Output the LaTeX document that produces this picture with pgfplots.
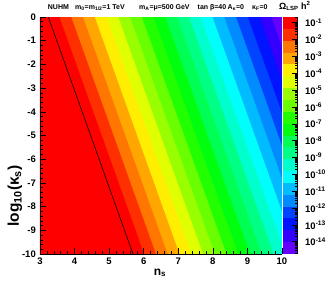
\documentclass[border=0pt]{standalone}
\usepackage{fontspec}
\setmainfont{Liberation Sans}
\usepackage{pgfplots}
\pgfplotsset{compat=1.18}
\definecolor{c0}{RGB}{99,0,255}
\definecolor{c1}{RGB}{51,0,255}
\definecolor{c2}{RGB}{0,20,255}
\definecolor{c3}{RGB}{0,68,255}
\definecolor{c4}{RGB}{0,139,255}
\definecolor{c5}{RGB}{0,187,255}
\definecolor{c6}{RGB}{0,255,252}
\definecolor{c7}{RGB}{0,255,204}
\definecolor{c8}{RGB}{0,255,133}
\definecolor{c9}{RGB}{0,255,85}
\definecolor{c10}{RGB}{0,255,14}
\definecolor{c11}{RGB}{34,255,0}
\definecolor{c12}{RGB}{105,255,0}
\definecolor{c13}{RGB}{153,255,0}
\definecolor{c14}{RGB}{224,255,0}
\definecolor{c15}{RGB}{255,238,0}
\definecolor{c16}{RGB}{255,167,0}
\definecolor{c17}{RGB}{255,119,0}
\definecolor{c18}{RGB}{255,48,0}
\definecolor{c19}{RGB}{255,0,0}
\begin{document}
\begin{tikzpicture}[font=\bfseries]
\path[use as bounding box] (-40pt,-28pt) rectangle (287pt,254pt);
\begin{axis}[
  at={(0pt,0pt)}, anchor=south west,
  width=242pt, height=237pt, scale only axis,
  xmin=3, xmax=10, ymin=-10, ymax=0,
  axis on top,
  axis x line*=bottom, axis y line*=left,
  axis line style={black, line width=0.6pt},
  tick align=inside,
  xtick={3,4,5,6,7,8,9,10},
  xticklabels={3,4,5,6,7,8,9,10},
  ytick={-10,-9,-8,-7,-6,-5,-4,-3,-2,-1,0},
  yticklabels={-10,-9,-8,-7,-6,-5,-4,-3,-2,-1,0},
  minor x tick num=4, minor y tick num=4,
  major tick length=6pt, minor tick length=3pt,
  every tick/.style={black, line width=0.5pt},
  tick label style={font=\fontsize{9.5}{11}\bfseries, inner sep=0pt},
  xticklabel shift=4pt, yticklabel shift=4pt,
]
\addplot[fill=c19, draw=none] coordinates {(2,1) (13,1) (13,-11) (2,-11)};
\addplot[fill=c18, draw=none] coordinates {(3.320,1) (13,1) (13,-11) (6.260,-11)};
\addplot[fill=c17, draw=none] coordinates {(3.661,1) (13,1) (13,-11) (6.601,-11)};
\addplot[fill=c16, draw=none] coordinates {(4.001,1) (13,1) (13,-11) (6.941,-11)};
\addplot[fill=c15, draw=none] coordinates {(4.342,1) (13,1) (13,-11) (7.282,-11)};
\addplot[fill=c14, draw=none] coordinates {(4.682,1) (13,1) (13,-11) (7.622,-11)};
\addplot[fill=c13, draw=none] coordinates {(5.023,1) (13,1) (13,-11) (7.963,-11)};
\addplot[fill=c12, draw=none] coordinates {(5.363,1) (13,1) (13,-11) (8.303,-11)};
\addplot[fill=c11, draw=none] coordinates {(5.704,1) (13,1) (13,-11) (8.644,-11)};
\addplot[fill=c10, draw=none] coordinates {(6.044,1) (13,1) (13,-11) (8.984,-11)};
\addplot[fill=c9, draw=none] coordinates {(6.385,1) (13,1) (13,-11) (9.325,-11)};
\addplot[fill=c8, draw=none] coordinates {(6.725,1) (13,1) (13,-11) (9.665,-11)};
\addplot[fill=c7, draw=none] coordinates {(7.066,1) (13,1) (13,-11) (10.006,-11)};
\addplot[fill=c6, draw=none] coordinates {(7.406,1) (13,1) (13,-11) (10.346,-11)};
\addplot[fill=c5, draw=none] coordinates {(7.747,1) (13,1) (13,-11) (10.687,-11)};
\addplot[fill=c4, draw=none] coordinates {(8.087,1) (13,1) (13,-11) (11.027,-11)};
\addplot[fill=c3, draw=none] coordinates {(8.428,1) (13,1) (13,-11) (11.368,-11)};
\addplot[fill=c2, draw=none] coordinates {(8.768,1) (13,1) (13,-11) (11.708,-11)};
\addplot[fill=c1, draw=none] coordinates {(9.109,1) (13,1) (13,-11) (12.049,-11)};
\addplot[fill=c0, draw=none] coordinates {(9.449,1) (13,1) (13,-11) (12.389,-11)};
\addplot[black, line width=0.6pt] coordinates {(3.24,0) (5.69,-10)};
\end{axis}
\begin{axis}[
  at={(243pt,0pt)}, anchor=south west,
  width=14pt, height=237pt, scale only axis,
  xmin=0, xmax=1, ymin=-14.73, ymax=-0.66,
  axis on top,
  axis x line=none, axis y line*=right,
  axis line style={black, line width=0.5pt},
  tick align=inside,
  xtick=\empty,
  ytick={-14,-13,-12,-11,-10,-9,-8,-7,-6,-5,-4,-3,-2,-1},
  yticklabels={10\textsuperscript{-14},10\textsuperscript{-13},10\textsuperscript{-12},10\textsuperscript{-11},10\textsuperscript{-10},10\textsuperscript{-9},10\textsuperscript{-8},10\textsuperscript{-7},10\textsuperscript{-6},10\textsuperscript{-5},10\textsuperscript{-4},10\textsuperscript{-3},10\textsuperscript{-2},10\textsuperscript{-1}},
  minor ytick={-14.699,-14.523,-14.398,-14.301,-14.222,-14.155,-14.097,-14.046,
    -13.699,-13.523,-13.398,-13.301,-13.222,-13.155,-13.097,-13.046,
    -12.699,-12.523,-12.398,-12.301,-12.222,-12.155,-12.097,-12.046,
    -11.699,-11.523,-11.398,-11.301,-11.222,-11.155,-11.097,-11.046,
    -10.699,-10.523,-10.398,-10.301,-10.222,-10.155,-10.097,-10.046,
    -9.699,-9.523,-9.398,-9.301,-9.222,-9.155,-9.097,-9.046,
    -8.699,-8.523,-8.398,-8.301,-8.222,-8.155,-8.097,-8.046,
    -7.699,-7.523,-7.398,-7.301,-7.222,-7.155,-7.097,-7.046,
    -6.699,-6.523,-6.398,-6.301,-6.222,-6.155,-6.097,-6.046,
    -5.699,-5.523,-5.398,-5.301,-5.222,-5.155,-5.097,-5.046,
    -4.699,-4.523,-4.398,-4.301,-4.222,-4.155,-4.097,-4.046,
    -3.699,-3.523,-3.398,-3.301,-3.222,-3.155,-3.097,-3.046,
    -2.699,-2.523,-2.398,-2.301,-2.222,-2.155,-2.097,-2.046,
    -1.699,-1.523,-1.398,-1.301,-1.222,-1.155,-1.097,-1.046,-0.699},
  major tick length=5pt, minor tick length=2.5pt,
  every tick/.style={black, line width=0.5pt},
  yticklabel style={font=\fontsize{9.5}{11}\bfseries, inner sep=0pt, anchor=west},
  yticklabel shift=8pt,
]
\addplot[fill=c0, draw=none] coordinates {(0,-14.73) (1,-14.73) (1,-14.0265) (0,-14.0265)};
\addplot[fill=c1, draw=none] coordinates {(0,-14.0265) (1,-14.0265) (1,-13.323) (0,-13.323)};
\addplot[fill=c2, draw=none] coordinates {(0,-13.323) (1,-13.323) (1,-12.6195) (0,-12.6195)};
\addplot[fill=c3, draw=none] coordinates {(0,-12.6195) (1,-12.6195) (1,-11.916) (0,-11.916)};
\addplot[fill=c4, draw=none] coordinates {(0,-11.916) (1,-11.916) (1,-11.2125) (0,-11.2125)};
\addplot[fill=c5, draw=none] coordinates {(0,-11.2125) (1,-11.2125) (1,-10.509) (0,-10.509)};
\addplot[fill=c6, draw=none] coordinates {(0,-10.509) (1,-10.509) (1,-9.8055) (0,-9.8055)};
\addplot[fill=c7, draw=none] coordinates {(0,-9.8055) (1,-9.8055) (1,-9.102) (0,-9.102)};
\addplot[fill=c8, draw=none] coordinates {(0,-9.102) (1,-9.102) (1,-8.3985) (0,-8.3985)};
\addplot[fill=c9, draw=none] coordinates {(0,-8.3985) (1,-8.3985) (1,-7.695) (0,-7.695)};
\addplot[fill=c10, draw=none] coordinates {(0,-7.695) (1,-7.695) (1,-6.9915) (0,-6.9915)};
\addplot[fill=c11, draw=none] coordinates {(0,-6.9915) (1,-6.9915) (1,-6.288) (0,-6.288)};
\addplot[fill=c12, draw=none] coordinates {(0,-6.288) (1,-6.288) (1,-5.5845) (0,-5.5845)};
\addplot[fill=c13, draw=none] coordinates {(0,-5.5845) (1,-5.5845) (1,-4.881) (0,-4.881)};
\addplot[fill=c14, draw=none] coordinates {(0,-4.881) (1,-4.881) (1,-4.1775) (0,-4.1775)};
\addplot[fill=c15, draw=none] coordinates {(0,-4.1775) (1,-4.1775) (1,-3.474) (0,-3.474)};
\addplot[fill=c16, draw=none] coordinates {(0,-3.474) (1,-3.474) (1,-2.7705) (0,-2.7705)};
\addplot[fill=c17, draw=none] coordinates {(0,-2.7705) (1,-2.7705) (1,-2.067) (0,-2.067)};
\addplot[fill=c18, draw=none] coordinates {(0,-2.067) (1,-2.067) (1,-1.3635) (0,-1.3635)};
\addplot[fill=c19, draw=none] coordinates {(0,-1.3635) (1,-1.3635) (1,-0.66) (0,-0.66)};
\end{axis}
\node[anchor=base west, font=\fontsize{7}{9}\bfseries, inner sep=0pt] at (7.7pt,245pt) {NUHM};
\node[anchor=base west, font=\fontsize{7}{9}\bfseries, inner sep=0pt] at (35pt,245pt) {m\textsubscript{0}=m\textsubscript{1/2}=1 TeV};
\node[anchor=base west, font=\fontsize{7}{9}\bfseries, inner sep=0pt] at (99pt,245pt) {m\textsubscript{A}=μ=500 GeV};
\node[anchor=base west, font=\fontsize{7}{9}\bfseries, inner sep=0pt] at (157.5pt,245pt) {tan β=40};
\node[anchor=base west, font=\fontsize{7}{9}\bfseries, inner sep=0pt] at (187.5pt,245pt) {A\textsubscript{κ}=0};
\node[anchor=base west, font=\fontsize{7}{9}\bfseries, inner sep=0pt] at (212pt,245pt) {κ\textsubscript{F}=0};
\node[anchor=base west, font=\fontsize{9}{11}\bfseries, inner sep=0pt] at (239pt,244.5pt) {Ω\textsubscript{LSP} h\textsuperscript{2}};
\node[anchor=base, font=\fontsize{12}{14}\bfseries, inner sep=0pt] at (120pt,-21pt) {n\textsubscript{s}};
\node[rotate=90, font=\fontsize{15.5}{18}\bfseries, inner sep=0pt] at (-25pt,58pt) {log\textsubscript{10}(κ\textsubscript{s})};
\end{tikzpicture}
\end{document}
